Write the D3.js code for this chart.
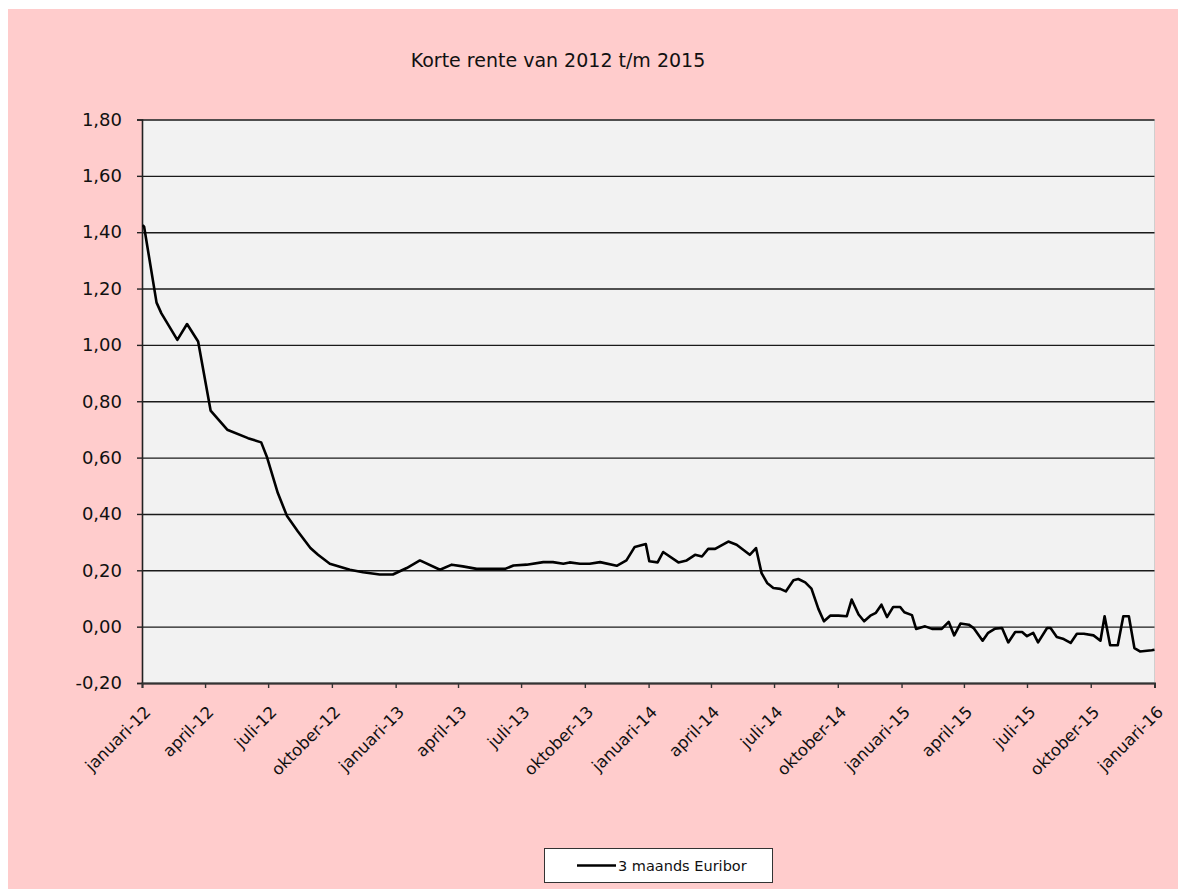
<!DOCTYPE html>
<html><head><meta charset="utf-8">
<script src="https://cdn.jsdelivr.net/npm/d3@7"></script>
<style>
body{margin:0;background:#fff}
svg{display:block}
text{font-family:"DejaVu Sans",Verdana,sans-serif;fill:#111}
</style>
</head><body><svg id="c" width="1178" height="889"></svg>
<script>
const title = "Korte rente van 2012 t/m 2015";
const seriesName = "3 maands Euribor";
const dates = [
"2012-01-02","2012-01-04","2012-01-22","2012-01-29","2012-02-21","2012-03-06","2012-03-22","2012-04-09","2012-05-03","2012-06-02",
"2012-06-21","2012-06-29","2012-07-15","2012-07-28","2012-08-13","2012-08-31","2012-09-11","2012-09-28","2012-10-27","2012-11-15",
"2012-12-09","2012-12-28","2013-01-17","2013-02-05","2013-03-06","2013-03-23","2013-04-08","2013-04-28","2013-06-08","2013-06-20",
"2013-07-09","2013-08-02","2013-08-16","2013-08-31","2013-09-09","2013-09-24","2013-10-08","2013-10-23","2013-11-16","2013-11-30",
"2013-12-12","2013-12-28","2014-01-02","2014-01-14","2014-01-22","2014-02-13","2014-02-25","2014-03-09","2014-03-19","2014-03-28",
"2014-04-07","2014-04-26","2014-05-08","2014-05-27","2014-06-05","2014-06-13","2014-06-21","2014-06-30","2014-07-10","2014-07-18",
"2014-07-29","2014-08-05","2014-08-15","2014-08-24","2014-09-03","2014-09-11","2014-09-20","2014-10-02","2014-10-14","2014-10-21",
"2014-10-31","2014-11-08","2014-11-17","2014-11-25","2014-12-03","2014-12-11","2014-12-20","2014-12-30","2015-01-05","2015-01-16",
"2015-01-22","2015-02-04","2015-02-14","2015-02-28","2015-03-10","2015-03-18","2015-03-27","2015-04-08","2015-04-15","2015-04-28",
"2015-05-06","2015-05-16","2015-05-26","2015-06-04","2015-06-14","2015-06-24","2015-07-01","2015-07-10","2015-07-17","2015-07-30",
"2015-08-04","2015-08-13","2015-08-23","2015-09-02","2015-09-11","2015-09-21","2015-10-05","2015-10-15","2015-10-21","2015-10-29",
"2015-11-09","2015-11-17","2015-11-25","2015-12-03","2015-12-11","2015-12-28","2016-01-01"
];
const values = [
1.425,1.420,1.150,1.112,1.018,1.074,1.012,0.767,0.699,0.669,
0.654,0.604,0.474,0.394,0.338,0.279,0.255,0.223,0.202,0.193,
0.185,0.185,0.208,0.235,0.202,0.220,0.214,0.205,0.205,0.217,
0.220,0.229,0.229,0.223,0.228,0.223,0.223,0.229,0.216,0.235,
0.283,0.293,0.232,0.228,0.265,0.228,0.235,0.255,0.249,0.276,
0.276,0.302,0.291,0.255,0.279,0.190,0.155,0.137,0.134,0.125,
0.165,0.169,0.157,0.135,0.063,0.019,0.039,0.039,0.037,0.096,
0.043,0.019,0.039,0.049,0.078,0.034,0.070,0.070,0.051,0.041,
-0.008,0.001,-0.008,-0.008,0.017,-0.031,0.011,0.007,-0.005,-0.050,
-0.022,-0.007,-0.005,-0.056,-0.019,-0.019,-0.034,-0.022,-0.056,-0.005,
-0.005,-0.037,-0.044,-0.058,-0.025,-0.025,-0.031,-0.050,0.037,-0.066,
-0.066,0.037,0.037,-0.076,-0.088,-0.084,-0.082
];
const yTicks = [-0.2,0,0.2,0.4,0.6,0.8,1.0,1.2,1.4,1.6,1.8];
const xTickDates = ["2012-01-01","2012-04-01","2012-07-01","2012-10-01","2013-01-01","2013-04-01","2013-07-01","2013-10-01",
"2014-01-01","2014-04-01","2014-07-01","2014-10-01","2015-01-01","2015-04-01","2015-07-01","2015-10-01","2016-01-01"];
const xTickLabels = ["januari-12","april-12","juli-12","oktober-12","januari-13","april-13","juli-13","oktober-13",
"januari-14","april-14","juli-14","oktober-14","januari-15","april-15","juli-15","oktober-15","januari-16"];

const parse = d3.utcParse("%Y-%m-%d");
const data = dates.map((d,i)=>({date:parse(d), value:values[i]}));
const tickDates = xTickDates.map(parse);

const svg = d3.select("#c");
const L = 142, R = 1154.5, T = 119.5, B = 683;

svg.append("rect").attr("x",8).attr("y",9).attr("width",1170).attr("height",880).attr("fill","#FFCCCC");
svg.append("rect").attr("x",L).attr("y",T).attr("width",R-L).attr("height",B-T).attr("fill","#F2F2F2");
svg.append("line").attr("x1",R).attr("x2",R).attr("y1",T).attr("y2",B).attr("stroke","#cfcfcf").attr("stroke-width",1);

const x = d3.scaleUtc().domain([tickDates[0], tickDates[tickDates.length-1]]).range([L,R]);
const y = d3.scaleLinear().domain([-0.2,1.8]).range([B,T]);

const loc = d3.formatLocale({decimal:",", thousands:".", grouping:[3], currency:["€",""], minus:"-"});
const fmt = loc.format(".2f");

// gridlines
svg.append("g").attr("transform",`translate(${L},0)`)
  .call(d3.axisLeft(y).tickValues(yTicks).tickSize(-(R-L)).tickFormat(""))
  .call(g=>g.select(".domain").remove())
  .call(g=>g.selectAll("line").attr("stroke","#1a1a1a").attr("stroke-width",1.4));

// y axis
svg.append("g").attr("transform",`translate(${L},0)`)
  .call(d3.axisLeft(y).tickValues(yTicks).tickSize(5).tickPadding(15).tickFormat(fmt))
  .call(g=>g.select(".domain").attr("stroke","#222").attr("stroke-width",1.6))
  .call(g=>g.selectAll("line").attr("stroke","#222").attr("stroke-width",1.4))
  .call(g=>g.selectAll("text").attr("font-size",18).attr("font-family","DejaVu Sans").attr("fill","#111"));

// x axis
svg.append("g").attr("transform",`translate(0,${B})`)
  .call(d3.axisBottom(x).tickValues(tickDates).tickSize(5).tickFormat((d,i)=>xTickLabels[i]))
  .call(g=>g.select(".domain").attr("stroke","#333").attr("stroke-width",2))
  .call(g=>g.selectAll("line").attr("stroke","#333").attr("stroke-width",1.4))
  .call(g=>g.selectAll("text").attr("font-size",16.5).attr("font-family","DejaVu Sans").attr("fill","#111")
     .attr("text-anchor","end").attr("x",0).attr("y",0).attr("dy","0.35em")
     .attr("transform","translate(5,26) rotate(-45)"));

// line
const line = d3.line().x(d=>x(d.date)).y(d=>y(d.value));
svg.append("path").datum(data).attr("d",line).attr("fill","none")
  .attr("stroke","#000").attr("stroke-width",2.6).attr("stroke-linejoin","round");

// title
svg.append("text").attr("x",558).attr("y",67).attr("text-anchor","middle")
  .attr("font-size",19).text(title);

// legend
const lg = svg.append("g");
lg.append("rect").attr("x",544.5).attr("y",848.5).attr("width",228).attr("height",34)
  .attr("fill","#fff").attr("stroke","#333").attr("stroke-width",1);
lg.append("line").attr("x1",577).attr("x2",616).attr("y1",865.5).attr("y2",865.5)
  .attr("stroke","#000").attr("stroke-width",2.6);
lg.append("text").attr("x",618).attr("y",865.5).attr("dy","0.35em").attr("font-size",14.5).text(seriesName);
</script>
</body></html>
